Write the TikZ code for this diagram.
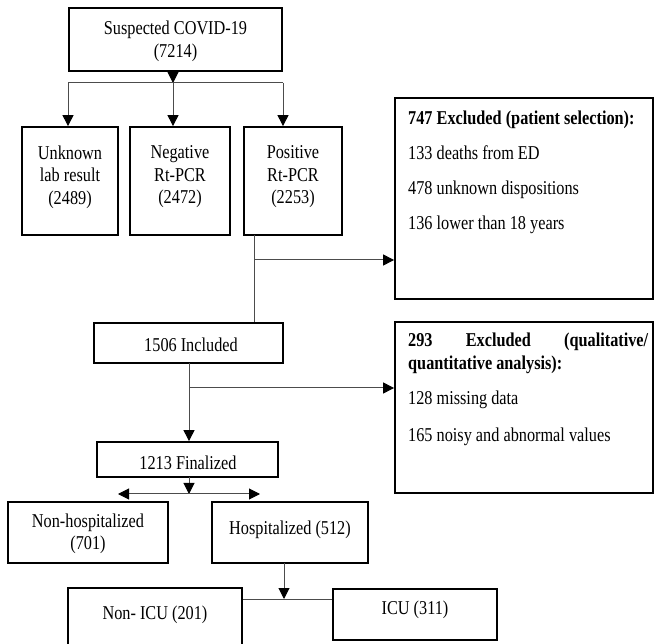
\documentclass[tikz,border=0pt]{standalone}
\usepackage{fontspec}
\setmainfont{Liberation Serif}[FakeStretch=0.83]
\usetikzlibrary{arrows.meta,fit}
\newcommand\fsz{\fontsize{19.6}{22.5}\selectfont}
\begin{document}
\begin{tikzpicture}[x=1pt,y=-1pt,
  box/.style={draw=black, line width=1.8pt, inner sep=0pt},
  txt/.style={inner sep=0pt, align=center, font=\fsz},
  conn/.style={draw=black!70, line width=1pt},
  arr/.style={conn, -{Triangle[length=11pt,width=11pt,color=black]}},
  darr/.style={conn, {Triangle[length=11pt,width=11pt,color=black]}-{Triangle[length=11pt,width=11pt,color=black]}},
  ltxt/.style={inner sep=0pt, anchor=base west, font=\fsz}]
\useasboundingbox (0,0) rectangle (654,644);
\clip (0,0) rectangle (654,644);
% boxes
\node[box, fit={(69,8) (282,71)}] (top) {};
\node[txt] (topt) at (175.5,41.5) {Suspected COVID-19\\(7214)};
\node[box, fit={(22,127) (118,235)}] (unk) {};
\node[box, fit={(130,127) (230,235)}] (neg) {};
\node[box, fit={(244,127) (342,235)}] (pos) {};
\node[txt] (unkt) at (70,177) {Unknown\\lab result\\(2489)};
\node[txt] (negt) at (180,177) {Negative\\Rt-PCR\\(2472)};
\node[txt] (post) at (293,177) {Positive\\Rt-PCR\\(2253)};
\node[box, fit={(395,98) (653,299)}] (exc1) {};
\node[ltxt] (e1a) at (408,125) {\bfseries 747 Excluded (patient selection):};
\node[ltxt] (e1b) at (408,160) {133 deaths from ED};
\node[ltxt] (e1c) at (408,195) {478 unknown dispositions};
\node[ltxt] (e1d) at (408,230) {136 lower than 18 years};
\node[box, fit={(94,323) (283,363)}] (inc) {};
\node[txt] (inct) at (191,345) {1506 Included};
\node[box, fit={(395,322) (653,493)}] (exc2) {};
\node[ltxt] (e2a) at (408,347) {\bfseries\hbox to 240pt{293\hfill Excluded\hfill (qualitative/}};
\node[ltxt] (e2b) at (408,370) {\bfseries quantitative analysis):};
\node[ltxt] (e2c) at (408,405) {128 missing data};
\node[ltxt] (e2d) at (408,442) {165 noisy and abnormal values};
\node[box, fit={(97,442) (278,477)}] (fin) {};
\node[txt] (fint) at (188,463) {1213 Finalized};
\node[box, fit={(8,502) (168,563)}] (nonh) {};
\node[txt] (nonht) at (88,534) {Non-hospitalized\\(701)};
\node[box, fit={(212,502) (368,563)}] (hosp) {};
\node[txt] (hospt) at (290,530) {Hospitalized (512)};
\node[box, fit={(68,588) (242,670)}] (nicu) {};
\node[txt] (nicut) at (155,615) {Non- ICU (201)};
\node[box, fit={(333,589) (497,640)}] (icu) {};
\node[txt] (icut) at (415,610) {ICU (311)};
% connectors
\coordinate (j1) at (173,83);
\coordinate (jL) at (68,83);
\coordinate (jR) at (283,83);
\draw[arr] (top.south -| j1) -- (j1);
\draw[conn] (jL) -- (jR);
\draw[arr] (jL) -- (jL |- unk.north);
\draw[arr] (j1) -- (j1 |- neg.north);
\draw[arr] (jR) -- (jR |- pos.north);
\coordinate (pb) at (254,235);
\coordinate (pm) at (254,260);
\draw[conn] (pb) -- (pb |- inc.north);
\draw[arr] (pm) -- (pm -| exc1.west);
\coordinate (ib) at (189,363);
\coordinate (im) at (189,388);
\draw[arr] (ib) -- (ib |- fin.north);
\draw[arr] (im) -- (im -| exc2.west);
\coordinate (fb) at (189,477);
\coordinate (fm) at (189,494);
\coordinate (fL) at (118,494);
\coordinate (fR) at (260,494);
\draw[arr] (fb) -- (fm);
\draw[darr] (fL) -- (fR);
\coordinate (hb) at (284,563);
\coordinate (hm) at (284,599);
\draw[arr] (hb) -- (hm);
\draw[conn] (nicu.east |- hm) -- (icu.west |- hm);
\end{tikzpicture}
\end{document}
